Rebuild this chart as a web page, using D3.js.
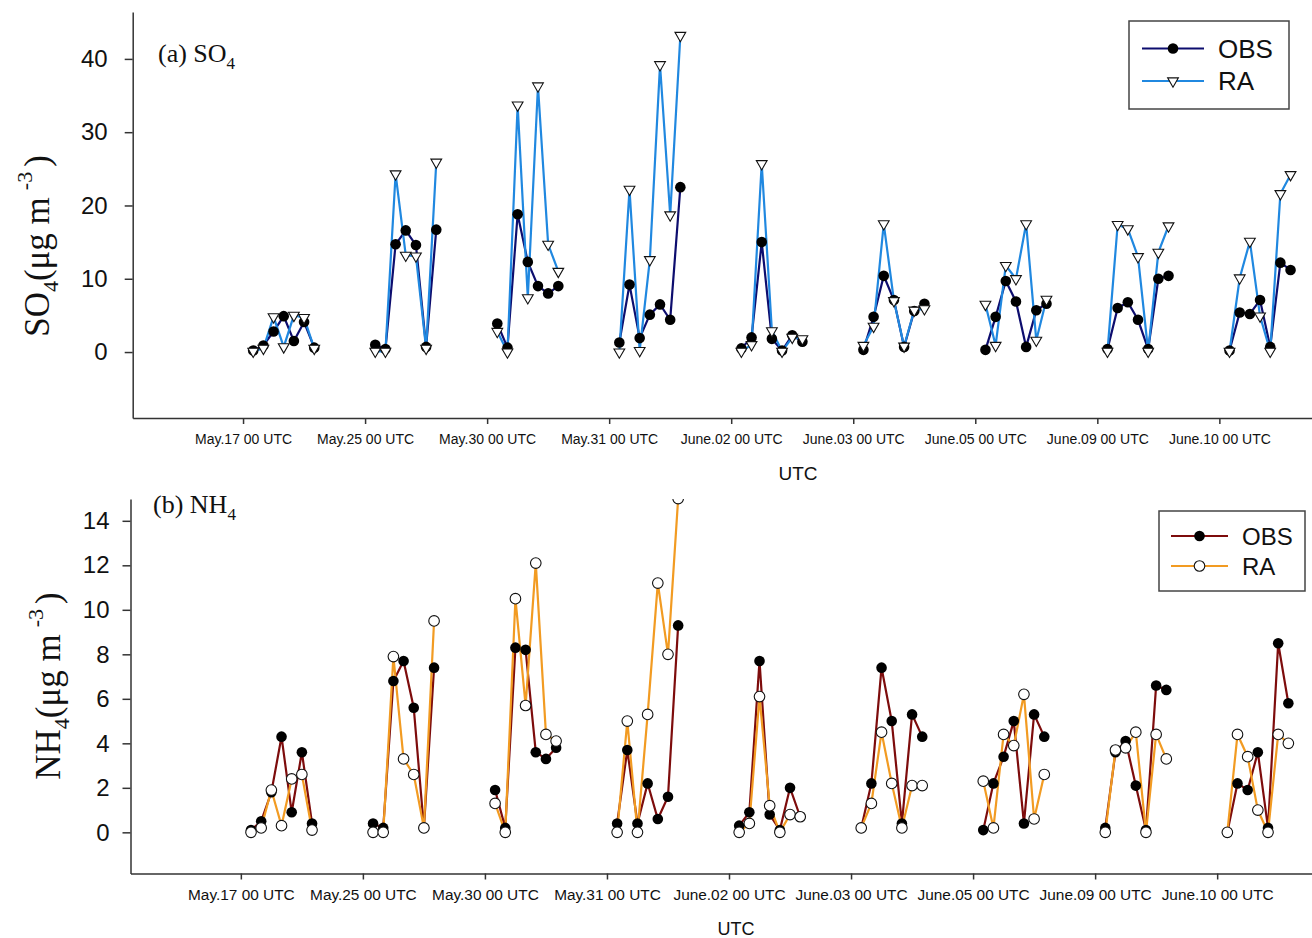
<!DOCTYPE html>
<html lang="en">
<head>
<meta charset="utf-8">
<title>SO4 / NH4 OBS vs RA</title>
<script src="https://cdn.jsdelivr.net/npm/d3@7/dist/d3.min.js"></script>
<style>
  body { margin: 0; background: #fff; }
  .axis path, .axis line { fill: none; stroke: #333; stroke-width: 1.5px; }
  .axis text { font-family: Arial, "Liberation Sans", sans-serif; fill: #111; }
  .serif { font-family: "Times New Roman", "Liberation Serif", serif; fill: #111; }
  .sans { font-family: Arial, "Liberation Sans", sans-serif; fill: #111; }
</style>
</head>
<body>
<script>
// one tick per sampling day, 7 samples drawn after each tick
var dates = ["May.17 00 UTC", "May.25 00 UTC", "May.30 00 UTC", "May.31 00 UTC",
             "June.02 00 UTC", "June.03 00 UTC", "June.05 00 UTC", "June.09 00 UTC", "June.10 00 UTC"];
var slots = [1, 2, 3, 4, 5, 6, 7];
var slotsPerDay = 12;

// (a) SO4, ug m-3
var so4Obs = [
  [0.2, 0.9, 2.8, 4.9, 1.5, 4.1, 0.6],
  [1.0, 0.4, 14.7, 16.6, 14.6, 0.7, 16.7],
  [3.9, 0.6, 18.8, 12.3, 9.0, 8.0, 9.0],
  [1.3, 9.2, 1.9, 5.1, 6.5, 4.4, 22.5],
  [0.5, 2.0, 15.0, 1.8, 0.2, 2.3, 1.4],
  [0.3, 4.8, 10.4, 7.1, 0.7, 5.6, 6.6],
  [0.3, 4.8, 9.7, 6.9, 0.7, 5.7, 6.6],
  [0.4, 6.0, 6.8, 4.4, 0.4, 10.0, 10.4],
  [0.2, 5.4, 5.2, 7.1, 0.7, 12.2, 11.2]
];
var so4Ra = [
  [0.1, 0.5, 4.8, 0.7, 5.0, 4.7, 0.5],
  [0.1, 0.1, 24.3, 13.2, 13.1, 0.5, 25.9],
  [2.8, 0.0, 33.7, 7.4, 36.3, 14.7, 11.0],
  [0.0, 22.2, 0.2, 12.6, 39.2, 18.7, 43.2],
  [0.1, 1.0, 25.7, 2.9, 0.1, 2.0, 1.8],
  [0.9, 3.5, 17.5, 7.0, 0.8, 5.7, 5.9],
  [6.5, 0.9, 11.8, 10.0, 17.5, 1.6, 7.2],
  [0.1, 17.4, 16.8, 13.0, 0.1, 13.6, 17.2],
  [0.1, 10.1, 15.1, 4.9, 0.1, 21.6, 24.2]
];
var so4Ticks = [0, 10, 20, 30, 40];

// (b) NH4, ug m-3
var nh4Obs = [
  [0.1, 0.5, 1.8, 4.3, 0.9, 3.6, 0.4],
  [0.4, 0.2, 6.8, 7.7, 5.6, 0.2, 7.4],
  [1.9, 0.2, 8.3, 8.2, 3.6, 3.3, 3.8],
  [0.4, 3.7, 0.4, 2.2, 0.6, 1.6, 9.3],
  [0.3, 0.9, 7.7, 0.8, 0.1, 2.0, 0.7],
  [0.2, 2.2, 7.4, 5.0, 0.4, 5.3, 4.3],
  [0.1, 2.2, 3.4, 5.0, 0.4, 5.3, 4.3],
  [0.2, 3.6, 4.1, 2.1, 0.1, 6.6, 6.4],
  [0.0, 2.2, 1.9, 3.6, 0.2, 8.5, 5.8]
];
var nh4Ra = [
  [0.0, 0.2, 1.9, 0.3, 2.4, 2.6, 0.1],
  [0.0, 0.0, 7.9, 3.3, 2.6, 0.2, 9.5],
  [1.3, 0.0, 10.5, 5.7, 12.1, 4.4, 4.1],
  [0.0, 5.0, 0.0, 5.3, 11.2, 8.0, 15.0],
  [0.0, 0.4, 6.1, 1.2, 0.0, 0.8, 0.7],
  [0.2, 1.3, 4.5, 2.2, 0.2, 2.1, 2.1],
  [2.3, 0.2, 4.4, 3.9, 6.2, 0.6, 2.6],
  [0.0, 3.7, 3.8, 4.5, 0.0, 4.4, 3.3],
  [0.0, 4.4, 3.4, 1.0, 0.0, 4.4, 4.0]
];
var nh4Ticks = [0, 2, 4, 6, 8, 10, 12, 14];

var seriesNames = ["OBS", "RA"];

var w = 1312, h = 938;
var svg = d3.select("body").append("svg")
            .attr("width", w)
            .attr("height", h);

//turn the 9x7 arrays into points with an x index
function toGroups(values) {
  return values.map(function(day, di) {
    return day.map(function(v, si) {
      return { x: di * slotsPerDay + slots[si], y: v };
    });
  });
}

function drawPanel(cfg) {
  var xScale = d3.scaleLinear()
                 .domain([-10.85, 106])
                 .range([cfg.left, cfg.left + 116.85 * 10.17]);
  var yScale = d3.scaleLinear()
                 .domain(cfg.yDomain)
                 .range([cfg.bottom, cfg.top]);

  var g = svg.append("g");

  //clip so the marker at the top gets cut like the original
  g.append("clipPath")
   .attr("id", cfg.id + "-clip")
   .append("rect")
   .attr("x", cfg.left)
   .attr("y", cfg.top)
   .attr("width", w - cfg.left)
   .attr("height", cfg.bottom - cfg.top);

  //x axis
  var xAxis = d3.axisBottom(xScale)
                .tickValues(dates.map(function(d, i) { return i * slotsPerDay; }))
                .tickFormat(function(d) { return dates[d / slotsPerDay]; })
                .tickSize(6)
                .tickPadding(10)
                .tickSizeOuter(0);
  g.append("g")
   .attr("class", "axis")
   .attr("transform", "translate(0," + cfg.bottom + ")")
   .call(xAxis)
   .selectAll("text")
   .attr("font-size", cfg.xFont + "px");

  //y axis
  var yAxis = d3.axisLeft(yScale)
                .tickValues(cfg.yTicks)
                .tickSize(8)
                .tickPadding(cfg.yPad)
                .tickSizeOuter(0);
  g.append("g")
   .attr("class", "axis")
   .attr("transform", "translate(" + cfg.left + ",0)")
   .call(yAxis)
   .selectAll("text")
   .attr("font-size", "24px");

  //x title
  g.append("text")
   .attr("class", "sans")
   .attr("x", cfg.utcX)
   .attr("y", cfg.utcY)
   .attr("text-anchor", "middle")
   .attr("font-size", cfg.utcFont + "px")
   .text("UTC");

  //y title, rotated
  var yt = g.append("text")
            .attr("class", "serif")
            .attr("transform", "translate(" + cfg.titleX + "," + cfg.titleY + ") rotate(-90)")
            .attr("text-anchor", "middle")
            .attr("font-size", cfg.titleFont + "px");
  yt.append("tspan").text(cfg.species);
  yt.append("tspan").attr("font-size", "22px").attr("dy", 9).text("4");
  yt.append("tspan").attr("dy", -9).text("(\u03bcg m");
  yt.append("tspan").attr("font-size", "22px").attr("dy", -17).attr("dx", 7).text("-3");
  yt.append("tspan").attr("dy", 17).attr("dx", 5).text(")");

  //panel label
  var pl = g.append("text")
            .attr("class", "serif")
            .attr("x", cfg.labelX)
            .attr("y", cfg.labelY)
            .attr("font-size", "26px");
  pl.append("tspan").text(cfg.label + " " + cfg.species);
  pl.append("tspan").attr("font-size", "17px").attr("dy", 7).text("4");

  var plot = g.append("g").attr("clip-path", "url(#" + cfg.id + "-clip)");

  var line = d3.line()
               .x(function(d) { return xScale(d.x); })
               .y(function(d) { return yScale(d.y); });

  var obs = toGroups(cfg.obs);
  var ra = toGroups(cfg.ra);

  //one path per day so the days stay apart
  plot.selectAll(".obsLine")
      .data(obs)
      .enter()
      .append("path")
      .attr("class", "obsLine")
      .attr("d", line)
      .attr("fill", "none")
      .attr("stroke", cfg.obsColor)
      .attr("stroke-width", 2.2);

  plot.selectAll(".raLine")
      .data(ra)
      .enter()
      .append("path")
      .attr("class", "raLine")
      .attr("d", line)
      .attr("fill", "none")
      .attr("stroke", cfg.raColor)
      .attr("stroke-width", 2.2);

  plot.selectAll(".obsDot")
      .data(d3.merge(obs))
      .enter()
      .append("circle")
      .attr("class", "obsDot")
      .attr("cx", function(d) { return xScale(d.x); })
      .attr("cy", function(d) { return yScale(d.y); })
      .attr("r", 5.3)
      .attr("fill", "#000");

  var raPts = plot.selectAll(".raDot")
                  .data(d3.merge(ra))
                  .enter();
  if (cfg.raShape === "triangle") {
    raPts.append("path")
         .attr("class", "raDot")
         .attr("d", d3.symbol().type(d3.symbolTriangle).size(50))
         .attr("transform", function(d) {
           return "translate(" + xScale(d.x) + "," + yScale(d.y) + ") rotate(180)";
         })
         .attr("fill", "#fff")
         .attr("stroke", "#111")
         .attr("stroke-width", 1.1);
  } else {
    raPts.append("circle")
         .attr("class", "raDot")
         .attr("cx", function(d) { return xScale(d.x); })
         .attr("cy", function(d) { return yScale(d.y); })
         .attr("r", 5.3)
         .attr("fill", "#fff")
         .attr("stroke", "#111")
         .attr("stroke-width", 1.1);
  }

  //legend
  var L = cfg.legend;
  var lg = g.append("g");
  lg.append("rect")
    .attr("x", L.x).attr("y", L.y)
    .attr("width", L.w).attr("height", L.h)
    .attr("fill", "#fff")
    .attr("stroke", "#444")
    .attr("stroke-width", 1.5);
  seriesNames.forEach(function(name, i) {
    var ly = L.rowY[i];
    var col = i === 0 ? cfg.obsColor : cfg.raColor;
    lg.append("line")
      .attr("x1", L.lineX0).attr("x2", L.lineX1)
      .attr("y1", ly).attr("y2", ly)
      .attr("stroke", col)
      .attr("stroke-width", 2.2);
    var mx = (L.lineX0 + L.lineX1) / 2;
    if (i === 0) {
      lg.append("circle").attr("cx", mx).attr("cy", ly).attr("r", 5.3).attr("fill", "#000");
    } else if (cfg.raShape === "triangle") {
      lg.append("path")
        .attr("d", d3.symbol().type(d3.symbolTriangle).size(50))
        .attr("transform", "translate(" + mx + "," + ly + ") rotate(180)")
        .attr("fill", "#fff").attr("stroke", "#111").attr("stroke-width", 1.1);
    } else {
      lg.append("circle").attr("cx", mx).attr("cy", ly).attr("r", 5.3)
        .attr("fill", "#fff").attr("stroke", "#111").attr("stroke-width", 1.1);
    }
    lg.append("text")
      .attr("class", "sans")
      .attr("x", L.textX)
      .attr("y", ly + L.font * 0.36)
      .attr("font-size", L.font + "px")
      .text(name);
  });
}

drawPanel({
  id: "so4", species: "SO", label: "(a)",
  left: 132.7, top: 12, bottom: 418,
  yDomain: [-9.0, 46.4], yTicks: so4Ticks, yPad: 17,
  xFont: 14, utcX: 798, utcY: 480, utcFont: 19,
  titleX: 49, titleY: 246, titleFont: 35,
  labelX: 158, labelY: 62,
  obs: so4Obs, ra: so4Ra,
  obsColor: "#0d0d6e", raColor: "#2088e0", raShape: "triangle",
  legend: { x: 1129, y: 21, w: 160, h: 88, rowY: [48.5, 81], lineX0: 1142, lineX1: 1204, textX: 1218, font: 26 }
});

drawPanel({
  id: "nh4", species: "NH", label: "(b)",
  left: 130.5, top: 499, bottom: 873.5,
  yDomain: [-1.85, 14.98], yTicks: nh4Ticks, yPad: 13,
  xFont: 15.4, utcX: 736, utcY: 935, utcFont: 18,
  titleX: 60, titleY: 686, titleFont: 35,
  labelX: 153, labelY: 513,
  obs: nh4Obs, ra: nh4Ra,
  obsColor: "#7d0c0c", raColor: "#f29b22", raShape: "circle",
  legend: { x: 1159, y: 511, w: 146, h: 80, rowY: [536, 566], lineX0: 1171, lineX1: 1228, textX: 1242, font: 24 }
});
</script>
</body>
</html>
